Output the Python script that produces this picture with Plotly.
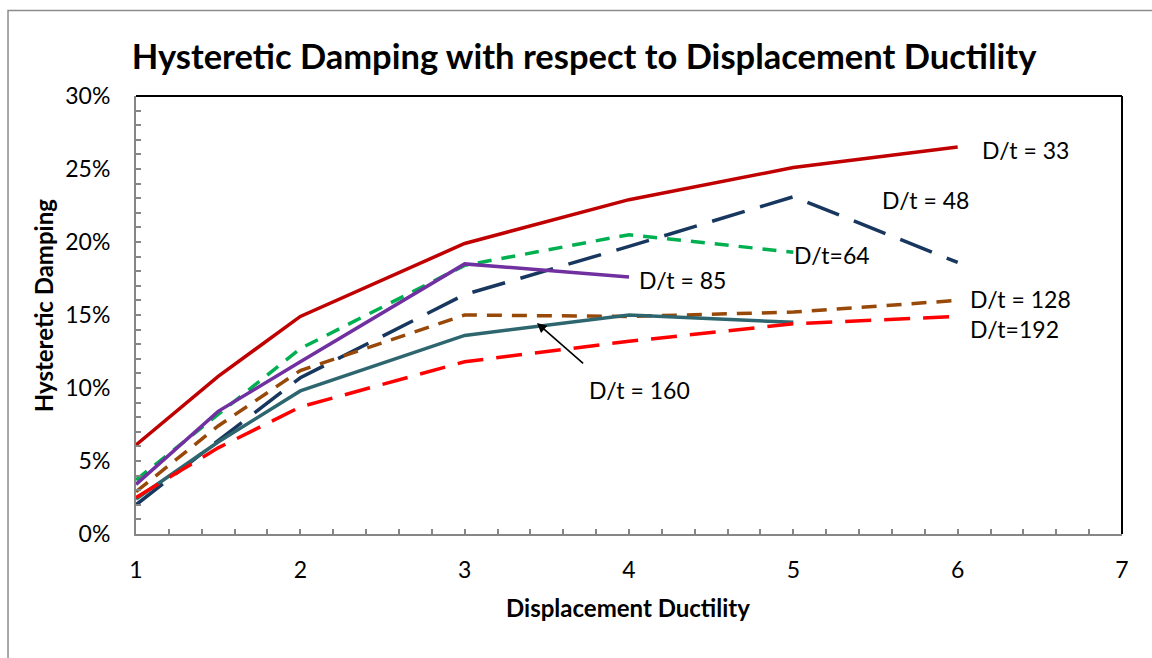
import plotly.graph_objects as go

# Displacement ductility levels (x) and hysteretic damping ratios per D/t series
ductility = [1, 1.5, 2, 3, 4, 5, 6]

damping_dt33 = [0.061, 0.108, 0.149, 0.199, 0.229, 0.251, 0.265]
damping_dt48 = [0.020, 0.064, 0.107, 0.164, 0.197, 0.231, 0.186]
damping_dt64 = [0.037, 0.082, 0.127, 0.184, 0.205, 0.193]
damping_dt85 = [0.034, 0.084, 0.118, 0.185, 0.176]
damping_dt128 = [0.029, 0.074, 0.112, 0.150, 0.149, 0.152, 0.160]
damping_dt160 = [0.024, 0.063, 0.098, 0.136, 0.150, 0.145]
damping_dt192 = [0.025, 0.059, 0.087, 0.118, 0.132, 0.144, 0.149]

FONT = "Lato"

series = [
    (damping_dt33, "#C00000", "solid", "D/t = 33"),
    (damping_dt48, "#17375E", "34px,16px", "D/t = 48"),
    (damping_dt64, "#00B050", "14px,10px", "D/t=64"),
    (damping_dt85, "#7030A0", "solid", "D/t = 85"),
    (damping_dt128, "#984807", "15px,10px", "D/t = 128"),
    (damping_dt160, "#2E6670", "solid", "D/t = 160"),
    (damping_dt192, "#FF0000", "26px,13px", "D/t=192"),
]

fig = go.Figure()
for values, color, dash, name in series:
    fig.add_trace(go.Scatter(
        x=ductility[:len(values)], y=values, mode="lines", name=name,
        line=dict(color=color, width=3.5, dash=dash),
        showlegend=False,
    ))

# Curve labels: (text, left x, y)
labels = [
    ("D/t = 33", 6.137, 0.263),
    ("D/t = 48", 5.528, 0.229),
    ("D/t=64", 4.99, 0.191),
    ("D/t = 85", 4.049, 0.174),
    ("D/t = 128", 6.064, 0.161),
    ("D/t=192", 6.064, 0.1405),
    ("D/t = 160", 3.745, 0.0986),
]
for text, lx, ly in labels:
    fig.add_annotation(x=lx, y=ly, text=text, showarrow=False, xanchor="left",
                       yanchor="middle", font=dict(family=FONT, size=23, color="black"))

# Arrow pointing from the D/t = 160 label to its curve
fig.add_annotation(x=3.44, y=0.1445, ax=3.73, ay=0.116, axref="x", ayref="y",
                   text="", showarrow=True, arrowhead=2, arrowsize=1.2,
                   arrowwidth=1.6, arrowcolor="black")

# Axis titles
fig.add_annotation(text="<b>Hysteretic Damping</b>", xref="paper", yref="paper",
                   x=-0.0943, y=0.52, textangle=-90, showarrow=False,
                   xanchor="center", yanchor="middle",
                   font=dict(family=FONT, size=24, color="black"))
fig.add_annotation(text="<b>Displacement Ductility</b>", xref="paper", yref="paper",
                   x=0.499, y=-0.167, showarrow=False,
                   xanchor="center", yanchor="middle",
                   font=dict(family=FONT, size=24, color="black"))

# Plot-area frame (top and right edges) and outer chart border
fig.add_shape(type="line", xref="paper", yref="paper", x0=0, x1=1, y0=1, y1=1,
              line=dict(color="black", width=2))
fig.add_shape(type="line", xref="paper", yref="paper", x0=1, x1=1, y0=0, y1=1,
              line=dict(color="black", width=2))
fig.add_shape(type="rect", xref="paper", yref="paper", x0=-0.1298, x1=1.2,
              y0=-0.5, y1=1.195, line=dict(color="#8C8C8C", width=1.5))

axis_common = dict(
    showgrid=False, zeroline=False, showline=True, linecolor="#868686", linewidth=2,
    ticks="inside", ticklen=5, tickwidth=1.5, tickcolor="#868686",
    tickfont=dict(family=FONT, size=23, color="black"),
)

fig.update_xaxes(range=[1, 7], tick0=1, dtick=1,
                 minor=dict(dtick=0.2, ticks="inside", ticklen=5, tickwidth=1.5,
                            tickcolor="#868686", showgrid=False),
                 ticklabelstandoff=14, **axis_common)
fig.update_yaxes(range=[0, 0.30], tick0=0, dtick=0.05, tickformat=".0%",
                 minor=dict(dtick=0.01, ticks="inside", ticklen=5, tickwidth=1.5,
                            tickcolor="#868686", showgrid=False),
                 ticklabelstandoff=19, **axis_common)

fig.update_layout(
    width=1152, height=658,
    margin=dict(l=136, r=30, t=96, b=124),
    paper_bgcolor="white", plot_bgcolor="white",
    title=dict(text="<b>Hysteretic Damping with respect to Displacement Ductility</b>",
               x=0.507, xref="container", xanchor="center",
               y=1 - 57 / 658, yanchor="middle",
               font=dict(family=FONT, size=34.5, color="black")),
)

fig.write_html("out.html")
